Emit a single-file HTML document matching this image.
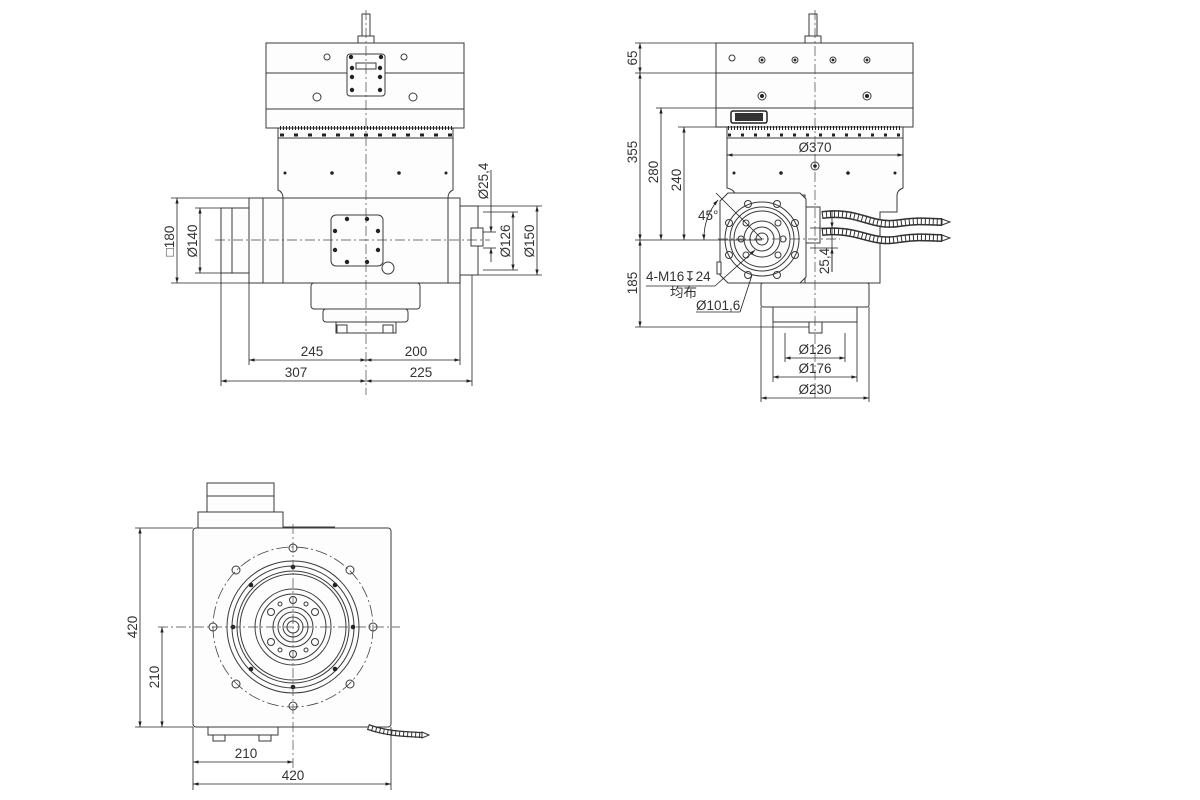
<!DOCTYPE html>
<html><head><meta charset="utf-8"><style>
html,body{margin:0;padding:0;background:#fff;}
svg{display:block;font-family:"Liberation Sans","Noto Sans CJK SC",sans-serif;}
.s{fill:none;stroke:#3a3a3a;stroke-width:1;}
.f{fill:#fdfdfd;stroke:#3a3a3a;stroke-width:1;}
.t{stroke:#222;stroke-width:0.8;fill:none;}
.c{stroke:#444;stroke-width:0.7;fill:none;stroke-dasharray:10 3 2 3;}
text{font-size:13.5px;fill:#333;}
.d{fill:#222;}
.h1{fill:none;stroke:#333;stroke-width:8;}
.h2{fill:none;stroke:#fff;stroke-width:5;}
.h3{fill:none;stroke:#333;stroke-width:8;stroke-dasharray:1 3;}
</style></head><body>
<svg width="1200" height="800" viewBox="0 0 1200 800" xmlns="http://www.w3.org/2000/svg">
<defs>
<marker id="a" viewBox="0 0 10 10" refX="10" refY="5" markerWidth="7" markerHeight="7" orient="auto-start-reverse"><path d="M0,2 L10,5 L0,8z" fill="#222"/></marker>
</defs>

<!-- ============ FRONT VIEW ============ -->
<rect class="f" x="362" y="14" width="8" height="22"/>
<rect class="f" x="358" y="36" width="16" height="7"/>
<rect class="f" x="266" y="43" width="198" height="85"/>
<line class="s" x1="266" y1="73" x2="464" y2="73"/>
<line class="s" x1="266" y1="109" x2="464" y2="109"/>
<rect class="f" x="347" y="54" width="38" height="42" rx="3"/>
<rect class="f" x="356" y="63" width="20" height="6"/>
<g class="d"><circle cx="351" cy="57" r="2.2"/><circle cx="381" cy="57" r="2.2"/><circle cx="352" cy="68" r="2.2"/><circle cx="380" cy="68" r="2.2"/><circle cx="352" cy="77" r="2.2"/><circle cx="380" cy="77" r="2.2"/><circle cx="352" cy="90" r="2.2"/><circle cx="380" cy="90" r="2.2"/></g>
<circle class="s" cx="327" cy="57" r="3"/><circle class="s" cx="404" cy="57" r="3"/>
<circle class="s" cx="317" cy="97" r="4"/><circle class="s" cx="413" cy="97" r="4"/>
<rect class="f" x="278" y="128" width="175" height="10"/>
<g stroke="#222" stroke-width="1">
<line x1="280" y1="128" x2="452" y2="128" stroke-dasharray="1 2" stroke-width="4"/>
<line x1="280" y1="135" x2="452" y2="135" stroke-dasharray="4 10" stroke-width="3"/>
</g>
<path class="f" d="M278,138 H453 V190 Q448,192 448,198 H283 Q283,192 278,190 Z"/>
<g class="d"><circle cx="285" cy="173" r="1.5"/><circle cx="332" cy="173" r="1.8"/><circle cx="399" cy="173" r="1.8"/><circle cx="446" cy="173" r="1.5"/></g>
<rect class="f" x="249" y="198" width="211" height="85"/>
<line class="s" x1="263" y1="198" x2="263" y2="283"/>
<line class="s" x1="283" y1="198" x2="283" y2="283"/>
<line class="s" x1="448" y1="198" x2="448" y2="283"/>
<rect class="f" x="221" y="208" width="28" height="65"/>
<line class="s" x1="232" y1="208" x2="232" y2="273"/>
<rect class="f" x="460" y="206" width="18" height="69"/>
<rect class="f" x="471" y="228" width="12" height="18"/>
<rect class="f" x="331" y="215" width="52" height="51" rx="5"/>
<g class="d"><circle cx="347" cy="219" r="2.2"/><circle cx="367" cy="219" r="2.2"/><circle cx="335" cy="231" r="2.2"/><circle cx="378" cy="231" r="2.2"/><circle cx="335" cy="250" r="2.2"/><circle cx="378" cy="250" r="2.2"/><circle cx="347" cy="262" r="2.2"/><circle cx="367" cy="262" r="2.2"/></g>
<circle class="s" cx="388" cy="268" r="6" stroke-width="1.4"/>
<rect class="f" x="311" y="283" width="109" height="26" rx="3"/>
<rect class="f" x="323" y="309" width="85" height="13" rx="3"/>
<rect class="f" x="336" y="322" width="60" height="11"/>
<rect class="f" x="337" y="325" width="10" height="8"/><rect class="f" x="383" y="325" width="10" height="8"/>
<line class="c" x1="366" y1="10" x2="366" y2="395"/>
<line class="c" x1="215" y1="240" x2="490" y2="240"/>
<g class="t">
<line x1="171" y1="198" x2="249" y2="198"/><line x1="171" y1="283" x2="249" y2="283"/>
<line x1="177" y1="198" x2="177" y2="283" marker-start="url(#a)" marker-end="url(#a)"/>
<line x1="195" y1="208" x2="221" y2="208"/><line x1="195" y1="273" x2="221" y2="273"/>
<line x1="200" y1="208" x2="200" y2="273" marker-start="url(#a)" marker-end="url(#a)"/>
<line x1="478" y1="206" x2="542" y2="206"/><line x1="478" y1="275" x2="542" y2="275"/>
<line x1="537" y1="206" x2="537" y2="275" marker-start="url(#a)" marker-end="url(#a)"/>
<line x1="483" y1="212" x2="518" y2="212"/><line x1="483" y1="270" x2="518" y2="270"/>
<line x1="513" y1="212" x2="513" y2="270" marker-start="url(#a)" marker-end="url(#a)"/>
<line x1="483" y1="232" x2="496" y2="232"/><line x1="483" y1="248" x2="496" y2="248"/>
<line x1="491" y1="170" x2="491" y2="232" marker-end="url(#a)"/>
<line x1="491" y1="262" x2="491" y2="248" marker-end="url(#a)"/>
<line x1="249" y1="283" x2="249" y2="365"/><line x1="460" y1="275" x2="460" y2="365"/>
<line x1="221" y1="273" x2="221" y2="386"/><line x1="472" y1="275" x2="472" y2="386"/>
<line x1="249" y1="360" x2="366" y2="360" marker-start="url(#a)" marker-end="url(#a)"/>
<line x1="366" y1="360" x2="460" y2="360" marker-start="url(#a)" marker-end="url(#a)"/>
<line x1="221" y1="381" x2="366" y2="381" marker-start="url(#a)" marker-end="url(#a)"/>
<line x1="366" y1="381" x2="472" y2="381" marker-start="url(#a)" marker-end="url(#a)"/>
</g>
<text x="312" y="356" text-anchor="middle">245</text>
<text x="416" y="356" text-anchor="middle">200</text>
<text x="296" y="377" text-anchor="middle">307</text>
<text x="421" y="377" text-anchor="middle">225</text>
<text transform="translate(174,241) rotate(-90)" text-anchor="middle">□180</text>
<text transform="translate(197,241) rotate(-90)" text-anchor="middle">Ø140</text>
<text transform="translate(488,181) rotate(-90)" text-anchor="middle">Ø25,4</text>
<text transform="translate(510,241) rotate(-90)" text-anchor="middle">Ø126</text>
<text transform="translate(534,241) rotate(-90)" text-anchor="middle">Ø150</text>

<!-- ============ SIDE VIEW ============ -->
<rect class="f" x="809" y="14" width="8" height="22"/>
<rect class="f" x="805" y="36" width="16" height="7"/>
<rect class="f" x="716" y="43" width="197" height="84"/>
<line class="s" x1="716" y1="73" x2="913" y2="73"/>
<line class="s" x1="716" y1="108" x2="913" y2="108"/>
<circle class="s" cx="732" cy="58" r="3"/>
<g><circle class="s" cx="762" cy="60" r="3"/><circle class="s" cx="795" cy="60" r="3"/><circle class="s" cx="833" cy="60" r="3"/><circle class="s" cx="867" cy="60" r="3"/>
<circle class="s" cx="762" cy="96" r="4"/><circle class="s" cx="867" cy="96" r="4"/></g>
<g class="d"><circle cx="762" cy="60" r="1.4"/><circle cx="795" cy="60" r="1.4"/><circle cx="833" cy="60" r="1.4"/><circle cx="867" cy="60" r="1.4"/><circle cx="762" cy="96" r="2"/><circle cx="867" cy="96" r="2"/></g>
<rect x="731" y="111" width="36" height="12" rx="2" fill="#fff" stroke="#222" stroke-width="1.5"/>
<rect x="735" y="113" width="28" height="8" fill="#333"/>
<rect class="f" x="727" y="127" width="176" height="11"/>
<g stroke="#222">
<line x1="728" y1="128" x2="902" y2="128" stroke-dasharray="1 2" stroke-width="4"/>
<line x1="728" y1="135" x2="902" y2="135" stroke-dasharray="3 10" stroke-width="3"/>
</g>
<path class="f" d="M727,138 H903 V188 Q897,190 897,196 V212 L880,212 V283 H805 V195 H735 Q735,190 727,188 Z"/>
<g class="d"><circle cx="734" cy="173" r="1.5"/><circle cx="781" cy="173" r="1.8"/><circle cx="848" cy="173" r="1.8"/><circle cx="895" cy="173" r="1.5"/></g>
<circle class="s" cx="815" cy="166" r="4"/><circle class="d" cx="815" cy="166" r="1.8"/>
<path class="f" d="M728,193 H800 L806,199 V277 L800,283 H728 L720,275 V201 Z"/>
<rect class="f" x="806" y="207" width="14" height="36"/>
<circle class="s" cx="762" cy="239" r="37"/>
<circle class="s" cx="762" cy="239" r="32" stroke-width="1.3"/>
<circle class="s" cx="762" cy="239" r="28"/>
<circle class="s" cx="762" cy="239" r="18"/>
<circle class="s" cx="762" cy="239" r="12" stroke-width="1.3"/>
<circle class="s" cx="762" cy="239" r="6"/>
<g class="s">
<circle cx="748" cy="204" r="3.5"/><circle cx="777" cy="204" r="3.5"/><circle cx="729" cy="223" r="3.5"/><circle cx="795" cy="223" r="3.5"/>
<circle cx="729" cy="255" r="3.5"/><circle cx="795" cy="255" r="3.5"/><circle cx="748" cy="275" r="3.5"/><circle cx="777" cy="275" r="3.5"/>
<circle cx="746" cy="223" r="3"/><circle cx="778" cy="223" r="3"/><circle cx="746" cy="255" r="3"/><circle cx="778" cy="255" r="3"/>
<circle cx="741" cy="239" r="3"/><circle cx="783" cy="239" r="3"/>
</g>
<rect class="f" x="717" y="262" width="4" height="12"/>
<!-- hoses -->
<g>
<path class="h1" d="M822,215 C860,210 870,228 900,223 C920,220 930,222 942,222"/>
<path class="h1" d="M822,232 C860,228 870,245 900,239 C920,236 930,238 942,238"/>
<path class="h2" d="M822,215 C860,210 870,228 900,223 C920,220 930,222 942,222"/>
<path class="h2" d="M822,232 C860,228 870,245 900,239 C920,236 930,238 942,238"/>
<path class="h3" d="M822,215 C860,210 870,228 900,223 C920,220 930,222 942,222"/>
<path class="h3" d="M822,232 C860,228 870,245 900,239 C920,236 930,238 942,238"/>
</g>
<path d="M942,219 L950,222 L942,225 Z M942,235 L950,238 L942,241 Z" fill="#fff" stroke="#333"/>
<rect class="f" x="761" y="283" width="108" height="24" rx="2"/>
<rect class="f" x="773" y="307" width="84" height="15"/>
<rect class="f" x="809" y="322" width="13" height="11"/>
<line class="c" x1="815" y1="10" x2="815" y2="400"/>
<line class="c" x1="718" y1="239" x2="840" y2="239"/>
<g class="t">
<line x1="635" y1="43" x2="716" y2="43"/><line x1="635" y1="73" x2="716" y2="73"/>
<line x1="640" y1="43" x2="640" y2="73" marker-start="url(#a)" marker-end="url(#a)"/>
<line x1="640" y1="73" x2="640" y2="240" marker-start="url(#a)" marker-end="url(#a)"/>
<line x1="640" y1="240" x2="640" y2="327" marker-start="url(#a)" marker-end="url(#a)"/>
<line x1="656" y1="108" x2="716" y2="108"/><line x1="678" y1="127" x2="727" y2="127"/>
<line x1="661" y1="108" x2="661" y2="240" marker-start="url(#a)" marker-end="url(#a)"/>
<line x1="684" y1="127" x2="684" y2="240" marker-start="url(#a)" marker-end="url(#a)"/>
<line x1="635" y1="240" x2="762" y2="240"/>
<line x1="635" y1="327" x2="809" y2="327"/>
<line x1="727" y1="155" x2="903" y2="155" marker-start="url(#a)" marker-end="url(#a)"/>
<path d="M716,193 L762,239"/>
<path d="M704,240 A58,58 0 0 1 718,200" marker-start="url(#a)" marker-end="url(#a)"/>
<line x1="832" y1="228" x2="832" y2="272"/>
<line x1="810" y1="228" x2="838" y2="228"/><line x1="810" y1="248" x2="838" y2="248"/>
<line x1="832" y1="210" x2="832" y2="228" marker-end="url(#a)"/>
<line x1="832" y1="272" x2="832" y2="248" marker-end="url(#a)"/>
<line x1="646" y1="286" x2="715" y2="286"/>
<path d="M715,286 L755,250" marker-end="url(#a)"/>
<path d="M740,312 L752,275"/>
<line x1="696" y1="312" x2="740" y2="312"/>
<line x1="773" y1="322" x2="773" y2="382"/><line x1="857" y1="322" x2="857" y2="382"/>
<line x1="785" y1="333" x2="785" y2="362"/><line x1="845" y1="333" x2="845" y2="362"/>
<line x1="761" y1="307" x2="761" y2="402"/><line x1="869" y1="307" x2="869" y2="402"/>
<line x1="785" y1="358" x2="845" y2="358" marker-start="url(#a)" marker-end="url(#a)"/>
<line x1="773" y1="377" x2="857" y2="377" marker-start="url(#a)" marker-end="url(#a)"/>
<line x1="761" y1="398" x2="869" y2="398" marker-start="url(#a)" marker-end="url(#a)"/>
</g>
<text transform="translate(637,58) rotate(-90)" text-anchor="middle">65</text>
<text transform="translate(637,152) rotate(-90)" text-anchor="middle">355</text>
<text transform="translate(658,172) rotate(-90)" text-anchor="middle">280</text>
<text transform="translate(681,180) rotate(-90)" text-anchor="middle">240</text>
<text transform="translate(637,283) rotate(-90)" text-anchor="middle">185</text>
<text transform="translate(829,261) rotate(-90)" text-anchor="middle">25,4</text>
<text x="815" y="152" text-anchor="middle">Ø370</text>
<text x="698" y="220">45°</text>
<text x="646" y="281">4-M16↧24</text>
<text x="670" y="297">均布</text>
<text x="696" y="310">Ø101,6</text>
<text x="815" y="354" text-anchor="middle">Ø126</text>
<text x="815" y="373" text-anchor="middle">Ø176</text>
<text x="815" y="394" text-anchor="middle">Ø230</text>

<!-- ============ BOTTOM VIEW ============ -->
<rect class="f" x="207" y="483" width="67" height="29"/>
<line class="s" x1="207" y1="496" x2="274" y2="496"/>
<rect class="f" x="198" y="512" width="85" height="16"/>
<line class="s" x1="283" y1="527" x2="335" y2="527"/>
<rect class="f" x="193" y="528" width="198" height="199" rx="3"/>
<rect class="f" x="208" y="727" width="70" height="8"/>
<rect class="f" x="213" y="735" width="12" height="6"/><rect class="f" x="259" y="735" width="12" height="6"/>
<circle cx="293" cy="627" r="80" fill="none" stroke="#444" stroke-width="0.8" stroke-dasharray="12 3 2 3"/>
<circle class="s" cx="293" cy="627" r="66" stroke-width="1.5"/>
<circle class="s" cx="293" cy="627" r="61"/>
<circle class="s" cx="293" cy="627" r="56" stroke-width="1.2"/>
<circle class="s" cx="293" cy="627" r="53"/>
<circle class="s" cx="293" cy="627" r="38"/>
<circle class="s" cx="293" cy="627" r="33"/>
<circle class="s" cx="293" cy="627" r="20"/>
<circle class="s" cx="293" cy="627" r="15"/>
<circle class="s" cx="293" cy="627" r="10"/>
<circle class="s" cx="293" cy="627" r="6" stroke-width="2"/>
<g class="d">
<circle cx="293" cy="567" r="2.3"/><circle cx="293" cy="687" r="2.3"/><circle cx="233" cy="627" r="2.3"/><circle cx="353" cy="627" r="2.3"/>
<circle cx="251" cy="585" r="2.3"/><circle cx="335" cy="585" r="2.3"/><circle cx="251" cy="669" r="2.3"/><circle cx="335" cy="669" r="2.3"/>
</g>
<g class="s">
<circle cx="293" cy="548" r="4"/><circle cx="293" cy="706" r="4"/><circle cx="213" cy="627" r="4"/><circle cx="373" cy="627" r="4"/>
<circle cx="236" cy="570" r="4"/><circle cx="350" cy="570" r="4"/><circle cx="236" cy="684" r="4"/><circle cx="350" cy="684" r="4"/>
<circle cx="293" cy="600" r="3.5"/><circle cx="293" cy="654" r="3.5"/><circle cx="271" cy="612" r="3.5"/><circle cx="315" cy="612" r="3.5"/><circle cx="271" cy="642" r="3.5"/><circle cx="315" cy="642" r="3.5"/>
<circle cx="280" cy="604" r="2"/><circle cx="306" cy="604" r="2"/><circle cx="280" cy="650" r="2"/><circle cx="306" cy="650" r="2"/>
</g>
<path class="h1" d="M368,727 C385,733 400,734 422,735" style="stroke-width:6"/>
<path class="h2" d="M368,727 C385,733 400,734 422,735" style="stroke-width:3.5"/>
<path class="h3" d="M368,727 C385,733 400,734 422,735" style="stroke-width:6"/>
<path d="M422,732 L429,735 L422,738 Z" fill="#fff" stroke="#333"/>
<line class="c" x1="293" y1="524" x2="293" y2="770"/>
<line class="c" x1="158" y1="627" x2="400" y2="627"/>
<g class="t">
<line x1="135" y1="528" x2="193" y2="528"/><line x1="135" y1="727" x2="193" y2="727"/>
<line x1="140" y1="528" x2="140" y2="727" marker-start="url(#a)" marker-end="url(#a)"/>
<line x1="162" y1="627" x2="162" y2="727" marker-start="url(#a)" marker-end="url(#a)"/>
<line x1="193" y1="727" x2="193" y2="790"/><line x1="391" y1="727" x2="391" y2="790"/>
<line x1="193" y1="762" x2="293" y2="762" marker-start="url(#a)" marker-end="url(#a)"/>
<line x1="193" y1="784" x2="391" y2="784" marker-start="url(#a)" marker-end="url(#a)"/>
</g>
<text transform="translate(137,627) rotate(-90)" text-anchor="middle">420</text>
<text transform="translate(159,677) rotate(-90)" text-anchor="middle">210</text>
<text x="246" y="758" text-anchor="middle">210</text>
<text x="293" y="780" text-anchor="middle">420</text>
</svg>
</body></html>
